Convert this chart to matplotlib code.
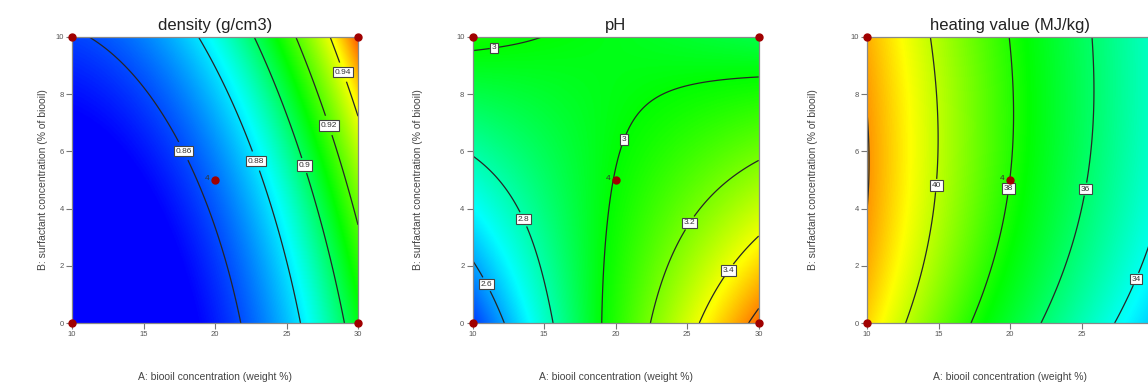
import numpy as np
import matplotlib.pyplot as plt
from matplotlib.colors import LinearSegmentedColormap

plt.rcParams['font.family'] = ['Liberation Sans', 'DejaVu Sans']

# factor levels (A across, B up)
biooil = [10, 15, 20, 25, 30]
surfactant = [0, 2.5, 5, 7.5, 10]

# responses, one row per surfactant level
density = [
    [0.838, 0.843, 0.854, 0.876, 0.906],
    [0.841, 0.846, 0.857, 0.881, 0.916],
    [0.846, 0.851, 0.861, 0.891, 0.928],
    [0.851, 0.857, 0.872, 0.901, 0.943],
    [0.857, 0.870, 0.884, 0.917, 0.957],
]
ph = [
    [2.476, 2.766, 3.057, 3.345, 3.638],
    [2.61, 2.82, 3.03, 3.25, 3.45],
    [2.753, 2.882, 3.0, 3.125, 3.25],
    [2.891, 2.95, 2.98, 3.03, 3.061],
    [3.028, 2.99, 2.97, 2.95, 2.92],
]
heating = [
    [41.3, 38.96, 36.88, 34.9, 32.98],
    [41.76, 39.6, 37.6, 35.7, 33.8],
    [42.1, 40.0, 38.04, 36.18, 34.4],
    [42.0, 39.96, 38.02, 36.25, 34.5],
    [41.7, 39.82, 37.98, 36.27, 34.56],
]

density_levels = [0.86, 0.88, 0.90, 0.92, 0.94]
ph_levels = [2.6, 2.8, 3.0, 3.2, 3.4, 3.6]
heating_levels = [34, 36, 38, 40, 42]

# design points, centre point has 4 replicates
design_a = [10, 10, 30, 30, 20]
design_b = [0, 10, 0, 10, 5]

# response values at which the colour scale passes blue, cyan, green, yellow, red
panels = [
    dict(title="density (g/cm3)", z=density, levels=density_levels,
         labelled=[0.86, 0.88, 0.90, 0.92, 0.94],
         label_at=[(18.25, 6.13), (22.9, 5.67), (26.2, 5.5), (27.9, 6.9), (28.55, 8.7)],
         colour_at=[0.85, 0.883, 0.91, 0.942, 0.968], left=72, ylab_off=24),
    dict(title="pH", z=ph, levels=ph_levels,
         labelled=[2.6, 2.8, 3.0, 3.2, 3.4],
         label_at=[(11.1, 1.39), (13.7, 3.66), (20.58, 6.42), (11.44, 9.8),
                   (25.05, 3.54), (27.7, 1.91)],
         colour_at=[2.4, 2.7, 3.0, 3.42, 3.8], left=472.7, ylab_off=49.5),
    dict(title="heating value (MJ/kg)", z=heating, levels=heating_levels,
         labelled=[34, 36, 38, 40],
         label_at=[(14.96, 4.8), (20.07, 4.69), (25.4, 4.67), (28.7, 1.56)],
         colour_at=[30.0, 33.7, 37.6, 40.8, 43.8], left=867, ylab_off=49),
]

cmap = LinearSegmentedColormap.from_list(
    "de", ["#0000ff", "#00ffff", "#00ff00", "#ffff00", "#ff0000"])


def smooth_surface(z, aa, bb):
    """Least-squares cubic response surface through the read values."""
    ga, gb = np.meshgrid(biooil, surfactant)
    terms = [(i, j) for i in range(4) for j in range(4) if i + j <= 3]
    u, v = (ga.ravel() - 20) / 10, (gb.ravel() - 5) / 5
    m = np.column_stack([u ** i * v ** j for i, j in terms])
    coef, *_ = np.linalg.lstsq(m, np.ravel(z), rcond=None)
    uu, vv = (aa - 20) / 10, (bb - 5) / 5
    return sum(c * uu ** i * vv ** j for c, (i, j) in zip(coef, terms))


W, H = 1148, 385
fig = plt.figure(figsize=(W / 100, H / 100), dpi=100)
fig.patch.set_facecolor("white")

aa, bb = np.meshgrid(np.linspace(10, 30, 300), np.linspace(0, 10, 300))

for p in panels:
    ax = fig.add_axes([p["left"] / W, 62 / H, 286 / W, 286 / H])
    zz = smooth_surface(p["z"], aa, bb)
    rgb = cmap(np.interp(zz, p["colour_at"], [0, 0.25, 0.5, 0.75, 1.0]))
    ax.imshow(rgb, extent=(10, 30, 0, 10), origin="lower", aspect="auto",
              interpolation="bilinear")
    cs = ax.contour(aa, bb, zz, levels=p["levels"], colors="#262626", linewidths=0.9)
    labels = ax.clabel(cs, levels=p["labelled"], manual=p["label_at"], inline=True,
                       inline_spacing=2, fontsize=6, fmt=lambda v: f"{v:g}")
    for t in labels:
        t.set_rotation(0)
        t.set_color("#333333")
        t.set_bbox(dict(boxstyle="square,pad=0.2", fc="white", ec="#444444", lw=0.8))

    ax.plot(design_a, design_b, "o", color="#a00000", ms=5, clip_on=False, zorder=5)
    ax.text(19.6, 5.05, "4", fontsize=6, color="#333333", ha="right", va="center")

    ax.set_xlim(10, 30)
    ax.set_ylim(0, 10)
    ax.set_xticks([10, 15, 20, 25, 30])
    ax.set_yticks([0, 2, 4, 6, 8, 10])
    ax.tick_params(direction="out", length=4, width=0.8, colors="#777777",
                   labelsize=5.5, labelcolor="#555555", pad=2)
    for s in ax.spines.values():
        s.set_color("#888888")
        s.set_linewidth(0.9)

    ax.set_title(p["title"], fontsize=12, color="#222222", pad=5)
    ax.set_xlabel("A: biooil concentration (weight %)", fontsize=7.5, color="#444444")
    ax.xaxis.set_label_coords(0.5, -(372 - 323) / 286)
    ax.set_ylabel("B: surfactant concentration (% of biooil)", fontsize=7.5,
                  color="#444444")
    ax.yaxis.set_label_coords(-p["ylab_off"] / 286, 0.5)

fig.savefig("out.png", dpi=100, facecolor="white")
